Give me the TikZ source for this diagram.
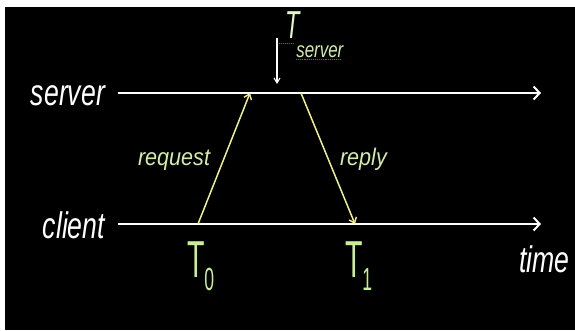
\documentclass[tikz,border=0pt]{standalone}
\usepackage{fontspec}
\setmainfont{Liberation Sans}
\usetikzlibrary{arrows.meta}
\definecolor{arrowyellow}{RGB}{240,240,140}
\definecolor{labelgreen}{RGB}{210,236,170}
\definecolor{tgreen}{RGB}{200,238,150}
\definecolor{squiggle}{RGB}{210,50,50}
\tikzset{
  timeline/.style={white, line width=2.6pt, -{Straight Barb[length=6pt,width=13pt,line width=2pt]}},
  msgarrow/.style={arrowyellow, line width=1.5pt, -{Straight Barb[length=5pt,width=8pt,line width=1.4pt]}},
  marker/.style={white, line width=1.3pt, -{Straight Barb[length=5pt,width=6pt,line width=1.1pt]}},
  txt/.style={inner sep=0pt, outer sep=0pt},
}
\newcommand{\bigword}[1]{\scalebox{0.72}[1]{\fontsize{37}{40}\selectfont\itshape #1}}
\newcommand{\msgword}[1]{\scalebox{0.9}[1]{\fontsize{24}{26}\selectfont\itshape #1}}
\newcommand{\tstamp}[1]{\scalebox{0.55}[1]{\fontsize{52}{52}\selectfont T\raisebox{-13pt}{\fontsize{32}{32}\selectfont #1}}}
\begin{document}
\begin{tikzpicture}[x=1pt,y=-1pt]
  \useasboundingbox (0,0) rectangle (575,330);
  \fill[white] (0,0) rectangle (575,330);
  \fill[black] (5,7) rectangle (575,330);

  % coordinates
  \coordinate (s0) at (118,93);
  \coordinate (s1) at (541,93);
  \coordinate (c0) at (118,224);
  \coordinate (c1) at (541,224);
  \coordinate (rq0) at (198,224);
  \coordinate (rq1) at (250,93);
  \coordinate (rp0) at (301,93);
  \coordinate (rp1) at (355,224);
  \coordinate (da0) at (277,38);
  \coordinate (da1) at (277,84);

  % labels
  \node[txt, white, anchor=base east] (srvlbl) at (105,105) {\bigword{server}};
  \node[txt, white, anchor=base east] (clilbl) at (105,238) {\bigword{client}};
  \node[txt, white, anchor=base west] (timelbl) at (519,272) {\bigword{time}};
  \node[txt, labelgreen, anchor=base west] (reqlbl) at (138,165) {\msgword{request}};
  \node[txt, labelgreen, anchor=base west] (replbl) at (340,165) {\msgword{reply}};
  \node[txt, tgreen, anchor=base west] (t0) at (187,277) {\tstamp{0}};
  \node[txt, tgreen, anchor=base west] (t1) at (345,277) {\tstamp{1}};
  \node[txt, anchor=base west] (tsrv) at (285,38)
    {\color{labelgreen!60!white}\scalebox{0.6}[1]{\fontsize{39}{39}\selectfont\itshape T}\kern-3pt\raisebox{-19pt}{\color{labelgreen}\scalebox{0.77}[1]{\fontsize{22}{22}\selectfont\itshape server}}};

  % time lines
  \draw[timeline] (s0) -- (s1);
  \draw[timeline] (c0) -- (c1);

  % messages
  \draw[msgarrow] (rq0) -- (rq1);
  \draw[msgarrow] (rp0) -- (rp1);

  % server time marker
  \draw[marker] (da0) -- (da1);
  \draw[squiggle, densely dotted, line width=1pt] (279,43) -- (295,43);
  \draw[squiggle, densely dotted, line width=1.1pt] (296,59.5) -- (342,59.5);
\end{tikzpicture}
\end{document}
